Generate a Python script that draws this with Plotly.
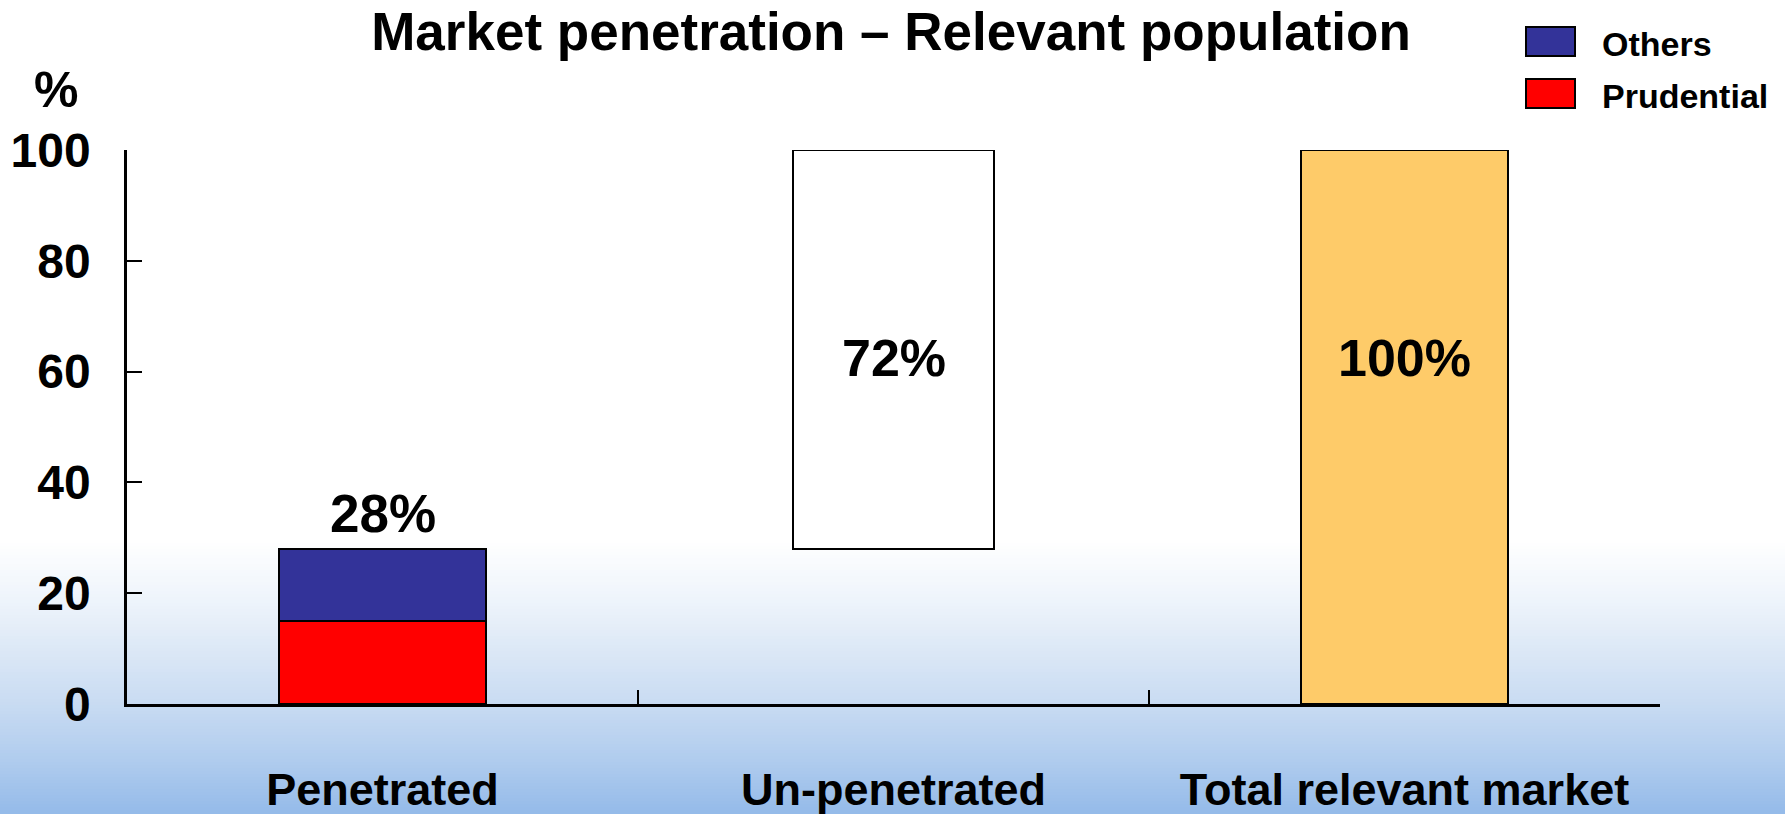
import plotly.graph_objects as go

# ---- data -------------------------------------------------------------
categories = ["Penetrated", "Un-penetrated", "Total relevant market"]
prudential = [15, None, None]
others = [13, None, None]
penetrated_total = 15 + 13
unpenetrated = 100 - penetrated_total
total_market = 100
y_ticks = [0, 20, 40, 60, 80, 100]

# ---- geometry of the canvas -------------------------------------------
W, H = 1785, 814
L, R, T, B = 127, 1660, 150, 704          # plot area in pixels
FONT = "Liberation Sans, Arial, Helvetica, sans-serif"


def px_x(px):
    return (px - L) / (R - L)


def px_y(py):
    return (B - py) / (B - T)


def hexmix(c1, c2, t):
    a = [int(c1[i:i + 2], 16) for i in (1, 3, 5)]
    b = [int(c2[i:i + 2], 16) for i in (1, 3, 5)]
    return "rgb({},{},{})".format(*[round(a[k] + (b[k] - a[k]) * t) for k in range(3)])


fig = go.Figure()

fig.add_trace(go.Bar(
    x=categories, y=prudential, name="Prudential",
    marker=dict(color="#FF0000", line=dict(color="#000000", width=2)),
    width=0.405, showlegend=False,
))
fig.add_trace(go.Bar(
    x=categories, y=others, name="Others",
    marker=dict(color="#333399", line=dict(color="#000000", width=2)),
    width=0.405, showlegend=False,
))
fig.add_trace(go.Bar(
    x=[categories[1]], y=[unpenetrated], base=[penetrated_total], name="Un-penetrated",
    marker=dict(color="#FFFFFF", line=dict(color="#000000", width=2)),
    width=0.395, showlegend=False,
))
fig.add_trace(go.Bar(
    x=[categories[2]], y=[total_market], name="Total",
    marker=dict(color="#FECB69", line=dict(color="#000000", width=2)),
    width=0.405, showlegend=False,
))

# ---- sky gradient behind the chart --------------------------------------
stops = [(540, "#FFFFFF"), (600, "#EEF4FB"), (650, "#DCE8F6"),
         (705, "#C8DBF2"), (760, "#B0CCEE"), (814, "#94BAE9")]
shapes = []
step = 3
y = stops[0][0]
while y < H:
    yc = y + step / 2
    for i in range(len(stops) - 1):
        if stops[i][0] <= yc <= stops[i + 1][0]:
            t = (yc - stops[i][0]) / (stops[i + 1][0] - stops[i][0])
            col = hexmix(stops[i][1], stops[i + 1][1], t)
            break
    shapes.append(dict(type="rect", xref="paper", yref="paper", layer="below",
                       x0=px_x(0), x1=px_x(W), y0=px_y(y + step + 0.5), y1=px_y(y),
                       line=dict(width=0), fillcolor=col))
    y += step

# ---- legend swatches ---------------------------------------------------
legend_items = [("Others", "#333399", 27), ("Prudential", "#FF0000", 79)]
for name, col, top in legend_items:
    shapes.append(dict(type="rect", xref="paper", yref="paper",
                       x0=px_x(1526), x1=px_x(1575), y0=px_y(top + 29), y1=px_y(top),
                       line=dict(color="#000000", width=2), fillcolor=col))

annotations = []
for name, col, top in legend_items:
    annotations.append(dict(text=name, xref="paper", yref="paper",
                            x=px_x(1600), y=px_y(top + 17), xanchor="left", yanchor="middle",
                            showarrow=False, font=dict(family=FONT, size=34, color="#000000", weight="bold")))

# value labels
annotations.append(dict(text=f"{penetrated_total}%", x=categories[0], y=penetrated_total,
                        yanchor="bottom", yshift=4, showarrow=False,
                        font=dict(family=FONT, size=53, color="#000000", weight="bold")))
annotations.append(dict(text=f"{unpenetrated}%", x=categories[1], y=62.5,
                        yanchor="middle", showarrow=False,
                        font=dict(family=FONT, size=52, color="#000000", weight="bold")))
annotations.append(dict(text=f"{total_market}%", x=categories[2], y=62.5,
                        yanchor="middle", showarrow=False,
                        font=dict(family=FONT, size=52, color="#000000", weight="bold")))

# axis unit label
annotations.append(dict(text="%", xref="paper", yref="paper", x=px_x(56), y=px_y(90),
                        xanchor="center", yanchor="middle", showarrow=False,
                        font=dict(family=FONT, size=50, color="#000000", weight="bold")))

fig.update_layout(
    width=W, height=H,
    margin=dict(l=L, r=W - R, t=T, b=H - B, pad=0, autoexpand=False),
    barmode="stack",
    paper_bgcolor="#FFFFFF",
    plot_bgcolor="rgba(0,0,0,0)",
    title=dict(text="Market penetration – Relevant population",
               x=891 / W, xanchor="center", y=1 - 31 / H, yanchor="middle",
               font=dict(family=FONT, size=53, color="#000000", weight="bold")),
    shapes=shapes,
    annotations=annotations,
    showlegend=False,
)

fig.update_xaxes(
    automargin=False,
    showline=True, linecolor="#000000", linewidth=2.5,
    ticks="inside", tickson="boundaries", ticklen=14, tickwidth=2, tickcolor="#000000",
    showgrid=False, zeroline=False,
    tickfont=dict(family=FONT, size=45, color="#000000", weight="bold"),
    ticklabelstandoff=44,
)
fig.update_yaxes(
    automargin=False,
    range=[0, 100], tickvals=y_ticks,
    showline=True, linecolor="#000000", linewidth=2.5,
    ticks="inside", ticklen=15, tickwidth=2, tickcolor="#000000",
    showgrid=False, zeroline=False,
    tickfont=dict(family=FONT, size=48, color="#000000", weight="bold"),
    ticklabelstandoff=24,
)

fig.write_html("out.html")
